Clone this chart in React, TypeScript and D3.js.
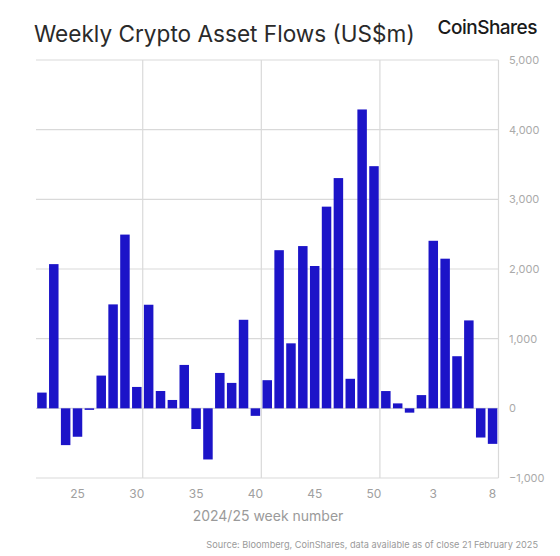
import React from "react";
import * as d3 from "d3";

const weeks: string[] = [
  "22","23","24","25","26","27","28","29","30","31","32","33","34","35","36","37","38","39","40","41",
  "42","43","44","45","46","47","48","49","50","51","52","1","2","3","4","5","6","7","8",
];
const flows: number[] = [
  226, 2070, -528, -408, -22, 470, 1492, 2494, 307, 1487, 249, 120, 623, -297, -734, 508, 365, 1271, -108, 404,
  2270, 933, 2329, 2043, 2895, 3305, 424, 4290, 3476, 248, 71, -62, 190, 2405, 2148, 748, 1262, -419, -510,
];
const xTickLabels: string[] = ["25", "30", "35", "40", "45", "50", "3", "8"];
const gridAfterWeeks: string[] = ["30", "40", "50", "8"];
const yTicks: number[] = [-1000, 0, 1000, 2000, 3000, 4000, 5000];

const W = 560;
const H = 556;
const FONT = "Inter, 'Noto Sans', 'DejaVu Sans', sans-serif";

export default function App() {
  const x = d3.scaleBand<string>().domain(weeks).range([36, 498.5]).paddingInner(0.2).paddingOuter(0.1);
  const y = d3.scaleLinear().domain([-1000, 5000]).range([478, 60]);
  const step = x.step();
  const fmt = d3.format(",");
  const bandStart = (w: string) => (x(w) as number) - (step * 0.2) / 2;
  const bandEnd = (w: string) => bandStart(w) + step;
  const left = x.range()[0];
  const right = x.range()[1];

  return (
    <svg width={W} height={H} style={{ position: "absolute", left: 0, top: 0, background: "#fff" }}>
      <rect x={0} y={0} width={W} height={H} fill="#fff" />
      <text x={34} y={42} fontFamily={FONT} fontSize={22.6} fill="#2a2a2a">
        Weekly Crypto Asset Flows (US$m)
      </text>
      <text x={537} y={34} textAnchor="end" fontFamily={FONT} fontSize={19} fontWeight={500} fill="#1a1a1a" letterSpacing={-0.5}>
        CoinShares
      </text>
      {yTicks.map((t) => (
        <g key={t}>
          <line x1={left} x2={right} y1={y(t)} y2={y(t)} stroke="#d9d9d9" strokeWidth={1.2} />
          <text x={509} y={y(t)} dy="0.35em" fontFamily={FONT} fontSize={11} fill="#aaaaaa">
            {fmt(t)}
          </text>
        </g>
      ))}
      {gridAfterWeeks.map((w) => (
        <line key={w} x1={bandEnd(w)} x2={bandEnd(w)} y1={y(5000)} y2={y(-1000)} stroke="#d9d9d9" strokeWidth={1.2} />
      ))}
      {weeks.map((w, i) => {
        const v = flows[i];
        return (
          <rect
            key={w}
            x={x(w)}
            width={x.bandwidth()}
            y={y(Math.max(0, v))}
            height={Math.abs(y(v) - y(0))}
            fill="#1c14c8"
          />
        );
      })}
      {xTickLabels.map((w) => (
        <text key={w} x={(x(w) as number) + x.bandwidth() / 2} y={494} dy="0.35em" textAnchor="middle" fontFamily={FONT} fontSize={12} fill="#a0a0a0">
          {w}
        </text>
      ))}
      <text x={268} y={516} dy="0.35em" textAnchor="middle" fontFamily={FONT} fontSize={14} fill="#9a9a9a">
        2024/25 week number
      </text>
      <text x={538} y={545} dy="0.35em" textAnchor="end" fontFamily={FONT} fontSize={9.2} fill="#9a9a9a">
        Source: Bloomberg, CoinShares, data available as of close 21 February 2025
      </text>
    </svg>
  );
}
